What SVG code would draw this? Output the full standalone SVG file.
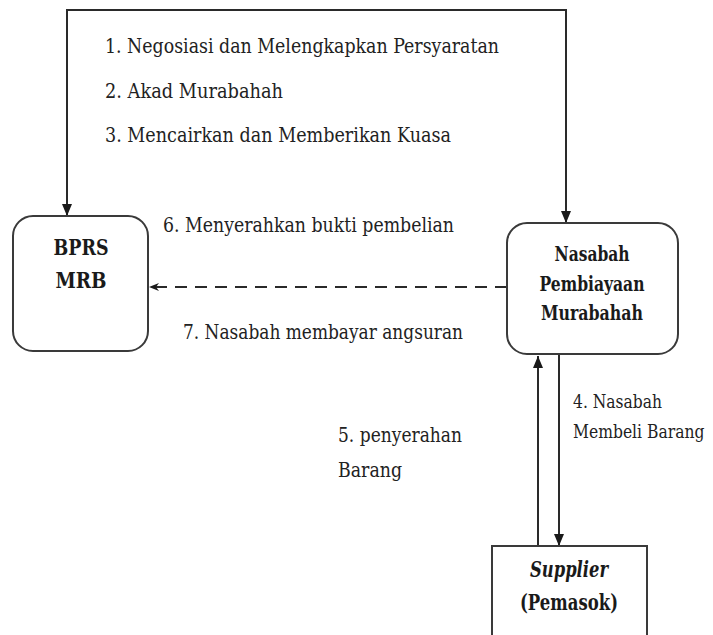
<svg xmlns="http://www.w3.org/2000/svg" width="713" height="635" viewBox="0 0 713 635">
  <style>
    .box { fill: #ffffff; stroke: #3a3a3a; stroke-width: 2; }
    .conn { fill: none; stroke: #2a2a2a; stroke-width: 2; }
    .dash { stroke-dasharray: 12 8; }
    text { font-family: "DejaVu Serif", serif; }
    .lbl { font-size: 21px; fill: #222222; }
    .lbl20 { font-size: 19px; }
    .node { font-weight: bold; fill: #1a1a1a; text-anchor: middle; }
  </style>
  <defs>
    <marker id="arrow" viewBox="0 0 12 10" refX="12" refY="5" markerWidth="12" markerHeight="10" markerUnits="userSpaceOnUse" orient="auto-start-reverse">
      <path d="M0,0 L12,5 L0,10 z" fill="#1a1a1a"/>
    </marker>
    <marker id="arrowSmall" viewBox="0 0 10 8" refX="10" refY="4" markerWidth="10" markerHeight="8" markerUnits="userSpaceOnUse" orient="auto">
      <path d="M0,0 L10,4 L0,8 L3,4 z" fill="#1a1a1a"/>
    </marker>
  </defs>
  <rect width="713" height="635" fill="#ffffff"/>

  <g id="connectors">
    <path class="conn" d="M67,216 V10 H566 V223" marker-start="url(#arrow)" marker-end="url(#arrow)"/>
    <path class="conn dash" d="M507,287 H149" marker-end="url(#arrowSmall)"/>
    <path class="conn" d="M538,546 V356" marker-end="url(#arrow)"/>
    <path class="conn" d="M559,355 V546" marker-end="url(#arrow)"/>
  </g>

  <g id="labels">
    <text class="lbl" x="105" y="53" textLength="394" lengthAdjust="spacingAndGlyphs">1.  Negosiasi dan Melengkapkan Persyaratan</text>
    <text class="lbl" x="105" y="98" textLength="178" lengthAdjust="spacingAndGlyphs">2.  Akad Murabahah</text>
    <text class="lbl" x="105" y="142" textLength="346" lengthAdjust="spacingAndGlyphs">3.  Mencairkan dan Memberikan Kuasa</text>
    <text class="lbl" x="163" y="232" textLength="291" lengthAdjust="spacingAndGlyphs">6. Menyerahkan bukti pembelian</text>
    <text class="lbl" x="183" y="339" textLength="280" lengthAdjust="spacingAndGlyphs">7. Nasabah membayar angsuran</text>
    <text class="lbl lbl20" x="573" y="408" textLength="89" lengthAdjust="spacingAndGlyphs">4. Nasabah</text>
    <text class="lbl lbl20" x="0" y="0" transform="translate(573,438) scale(0.82,1)">Membeli Barang</text>
    <text class="lbl" x="338" y="442" textLength="124" lengthAdjust="spacingAndGlyphs">5. penyerahan</text>
    <text class="lbl" x="338" y="477" textLength="64" lengthAdjust="spacingAndGlyphs">Barang</text>
  </g>

  <g id="node-bprs">
    <rect class="box" x="13" y="216" width="135" height="135" rx="20" ry="20"/>
    <text class="node" x="81" y="255" font-size="22" textLength="55" lengthAdjust="spacingAndGlyphs">BPRS</text>
    <text class="node" x="81" y="288" font-size="22" textLength="51" lengthAdjust="spacingAndGlyphs">MRB</text>
  </g>

  <g id="node-nasabah">
    <rect class="box" x="507" y="223" width="171" height="131" rx="20" ry="20"/>
    <text class="node" x="592" y="261" font-size="20" textLength="75" lengthAdjust="spacingAndGlyphs">Nasabah</text>
    <text class="node" x="592" y="291" font-size="20" textLength="105" lengthAdjust="spacingAndGlyphs">Pembiayaan</text>
    <text class="node" x="592" y="320" font-size="20" textLength="102" lengthAdjust="spacingAndGlyphs">Murabahah</text>
  </g>

  <g id="node-supplier">
    <rect class="box" x="492" y="546" width="155" height="100"/>
    <text class="node" x="569" y="577" font-size="22" font-style="italic" textLength="78" lengthAdjust="spacingAndGlyphs">Supplier</text>
    <text class="node" x="569" y="610" font-size="22" textLength="98" lengthAdjust="spacingAndGlyphs">(Pemasok)</text>
  </g>
</svg>
